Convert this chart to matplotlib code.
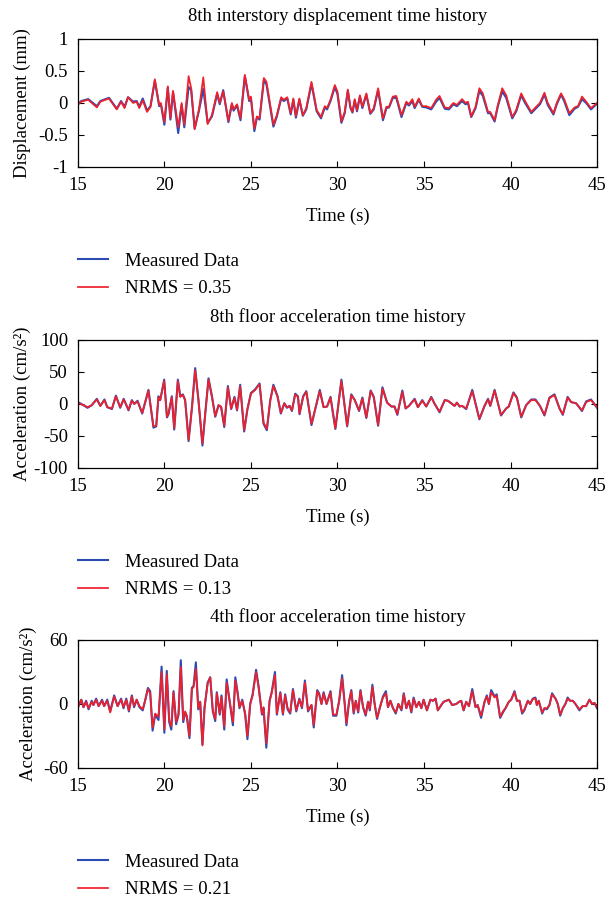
import matplotlib
matplotlib.use("Agg")
import matplotlib.pyplot as plt
import numpy as np

# 8th interstory displacement (mm): time, model (red), measured (blue)
disp_t = [15.0, 15.2, 15.6, 16.1, 16.3, 16.8, 17.25, 17.5, 17.7, 17.9, 18.2, 18.4, 18.55, 18.75,
          19.0, 19.2, 19.45, 19.7, 19.8, 20.0, 20.2, 20.35, 20.5, 20.8, 21.0, 21.15, 21.4, 21.55,
          21.75, 22.0, 22.25, 22.5, 22.75, 23.05, 23.2, 23.4, 23.7, 23.9, 24.0, 24.2, 24.4, 24.65,
          24.9, 25.0, 25.2, 25.35, 25.5, 25.75, 25.9, 26.3, 26.5, 26.75, 26.9, 27.1, 27.3, 27.45,
          27.6, 27.8, 28.0, 28.2, 28.5, 28.8, 29.05, 29.27, 29.4, 29.6, 29.85, 30.0, 30.23, 30.42,
          30.6, 30.75, 30.87, 31.0, 31.13, 31.3, 31.44, 31.67, 31.9, 32.1, 32.35, 32.63, 32.83,
          32.98, 33.2, 33.4, 33.7, 33.98, 34.13, 34.33, 34.46, 34.7, 34.9, 35.13, 35.42, 35.7,
          35.9, 36.2, 36.44, 36.7, 36.9, 37.2, 37.4, 37.54, 37.73, 37.98, 38.2, 38.4, 38.7, 38.83,
          39.08, 39.27, 39.52, 39.75, 40.1, 40.33, 40.62, 40.8, 41.2, 41.48, 41.7, 41.96, 42.15,
          42.48, 42.67, 42.92, 43.1, 43.4, 43.7, 43.9, 44.13, 44.37, 44.65, 45.0]
disp_model = [-0.03, 0.02, 0.05, -0.07, 0.02, 0.07, -0.10, 0.02, -0.08, 0.09, 0.00, 0.02, -0.08, 0.04,
              -0.14, -0.06, 0.37, -0.03, 0.00, -0.30, 0.26, -0.24, 0.19, -0.38, 0.00, -0.34, 0.42, 0.23,
              -0.41, -0.10, 0.40, -0.33, -0.19, 0.17, 0.00, 0.18, -0.28, 0.00, -0.10, -0.02, -0.24, 0.44,
              0.05, 0.10, -0.40, -0.21, -0.24, 0.39, 0.33, -0.34, -0.19, 0.09, 0.05, 0.09, -0.16, 0.07,
              -0.21, 0.07, -0.19, -0.08, 0.33, -0.11, -0.22, -0.05, -0.08, 0.05, 0.28, 0.18, -0.29, -0.14,
              0.21, -0.06, -0.14, 0.06, -0.11, 0.12, -0.06, 0.15, -0.16, -0.08, 0.23, -0.24, -0.06,
              -0.06, 0.10, 0.11, -0.19, 0.02, -0.02, 0.06, -0.06, 0.07, -0.05, -0.05, -0.08, 0.05,
              0.11, -0.07, -0.08, 0.00, -0.03, 0.06, 0.00, 0.02, -0.21, -0.06, 0.23, 0.15, -0.14, -0.14,
              -0.27, -0.03, 0.23, 0.12, -0.22, -0.11, 0.15, 0.05, -0.14, -0.06, 0.00, 0.16, 0.00,
              -0.16, 0.00, 0.15, 0.06, -0.16, -0.07, -0.05, 0.10, 0.02, -0.08, 0.00]
disp_measured = [-0.02, 0.03, 0.06, -0.05, 0.03, 0.08, -0.09, 0.03, -0.06, 0.09, 0.02, 0.03, -0.06, 0.07,
                 -0.12, -0.05, 0.35, -0.05, -0.02, -0.34, 0.24, -0.26, 0.17, -0.47, -0.03, -0.38, 0.25, 0.20,
                 -0.40, -0.12, 0.22, -0.31, -0.21, 0.14, -0.02, 0.20, -0.30, -0.02, -0.12, -0.04, -0.27, 0.42,
                 0.03, 0.08, -0.44, -0.22, -0.26, 0.36, 0.29, -0.37, -0.21, 0.07, 0.03, 0.07, -0.18, 0.05,
                 -0.23, 0.05, -0.20, -0.10, 0.30, -0.13, -0.24, -0.07, -0.10, 0.03, 0.25, 0.14, -0.31, -0.16,
                 0.19, -0.08, -0.15, 0.04, -0.13, 0.10, -0.08, 0.13, -0.17, -0.10, 0.20, -0.27, -0.08,
                 -0.07, 0.08, 0.08, -0.22, 0.00, -0.04, 0.03, -0.08, 0.05, -0.06, -0.07, -0.10, 0.02,
                 0.08, -0.09, -0.10, -0.02, -0.05, 0.03, -0.02, 0.00, -0.22, -0.08, 0.19, 0.11, -0.16, -0.16,
                 -0.29, -0.05, 0.18, 0.08, -0.24, -0.13, 0.12, 0.02, -0.16, -0.08, -0.02, 0.13, -0.03,
                 -0.18, -0.02, 0.13, 0.03, -0.19, -0.09, -0.06, 0.06, 0.00, -0.10, -0.01]

# 8th floor acceleration (cm/s^2)
acc8_t = [15.0, 15.33, 15.56, 15.8, 16.1, 16.3, 16.54, 16.7, 16.97, 17.2, 17.45, 17.65, 17.93, 18.12,
          18.26, 18.45, 18.72, 19.08, 19.37, 19.53, 19.66, 19.76, 19.99, 20.15, 20.24, 20.43, 20.57,
          20.78, 20.92, 21.07, 21.2, 21.4, 21.6, 21.78, 21.97, 22.2, 22.36, 22.55, 22.75, 22.94,
          23.13, 23.28, 23.46, 23.67, 23.86, 24.05, 24.2, 24.38, 24.61, 24.8, 25.0, 25.25, 25.5,
          25.73, 25.92, 26.12, 26.3, 26.54, 26.73, 26.93, 27.08, 27.24, 27.37, 27.56, 27.72, 27.81,
          28.02, 28.2, 28.5, 28.75, 28.98, 29.2, 29.4, 29.6, 29.88, 30.23, 30.56, 30.8, 31.0, 31.25,
          31.44, 31.67, 31.92, 32.1, 32.35, 32.6, 32.87, 33.12, 33.3, 33.46, 33.75, 33.94, 34.13,
          34.46, 34.65, 34.9, 35.13, 35.42, 35.6, 35.9, 36.2, 36.38, 36.77, 36.9, 37.06, 37.2, 37.44,
          37.79, 38.2, 38.5, 38.7, 38.83, 39.08, 39.45, 39.75, 39.9, 40.17, 40.37, 40.62, 40.9, 41.2,
          41.44, 41.7, 41.96, 42.25, 42.54, 42.83, 43.02, 43.3, 43.5, 43.79, 44.13, 44.37, 44.65, 45.0]
acc8_model = [2, -2, -5, -2, 7, -3, 6, -5, -7, 12, -5, 7, -9, 5,
              0, 4, -14, 21, -35, -34, 11, 6, 36, -20, -15, 11, -38,
              36, 11, 14, 6, -56, -4, 53, 6, -62, -15, 38, 11, -19,
              -2, -4, -34, 26, -7, 10, -9, 28, -41, -8, 16, 22, 31,
              -29, -39, 6, 28, 11, -14, 1, -5, -3, -10, 15, 11, -15,
              11, 19, -31, -4, 20, -5, -4, 10, -38, 36, -34, 14, 6, -10,
              9, -21, 20, 10, -33, 24, 2, -4, -4, -16, 19, -7, -3,
              7, -5, 5, -4, 10, 1, -12, 6, 5, -3, 2, -4, -3, -7,
              20, -23, -3, 7, -3, 21, -17, -7, -4, 17, 9, -20, -2, 6,
              6, -3, -17, 9, 14, -7, -16, 10, 3, 1, -10, 3, 6, -5]
acc8_measured = [3, -2, -6, -2, 8, -3, 7, -5, -8, 13, -6, 8, -10, 6,
                 0, 5, -15, 22, -37, -35, 12, 6, 38, -21, -16, 12, -40,
                 38, 12, 15, 6, -58, -4, 56, 6, -65, -16, 40, 12, -20,
                 -2, -5, -36, 28, -8, 11, -10, 30, -43, -8, 17, 23, 32,
                 -31, -41, 6, 30, 12, -15, 1, -6, -3, -11, 16, 12, -16,
                 12, 20, -33, -4, 22, -5, -4, 11, -39, 38, -35, 15, 6, -11,
                 10, -22, 21, 11, -34, 26, 2, -4, -4, -17, 21, -7, -3,
                 8, -5, 6, -4, 11, 1, -13, 6, 5, -3, 2, -4, -3, -8,
                 22, -24, -3, 8, -3, 22, -18, -7, -4, 18, 10, -21, -2, 7,
                 7, -3, -18, 10, 15, -7, -17, 11, 3, 1, -11, 4, 7, -6]

# 4th floor acceleration (cm/s^2)
acc4_t = [15.0, 15.2, 15.33, 15.48, 15.62, 15.8, 15.9, 16.06, 16.2, 16.4, 16.52, 16.7, 16.87, 17.1,
          17.3, 17.5, 17.64, 17.8, 17.95, 18.12, 18.25, 18.4, 18.56, 18.75, 18.9, 19.05, 19.18, 19.32,
          19.47, 19.66, 19.84, 20.0, 20.14, 20.28, 20.4, 20.53, 20.68, 20.82, 20.95, 21.09, 21.2,
          21.3, 21.45, 21.59, 21.69, 21.82, 21.96, 22.07, 22.2, 22.32, 22.5, 22.65, 22.8, 22.94,
          23.03, 23.2, 23.3, 23.46, 23.6, 23.77, 23.96, 24.1, 24.23, 24.34, 24.5, 24.67, 24.8, 24.96,
          25.1, 25.3, 25.44, 25.64, 25.73, 25.89, 26.08, 26.2, 26.39, 26.5, 26.7, 26.85, 26.98, 27.12,
          27.27, 27.43, 27.62, 27.8, 27.95, 28.12, 28.3, 28.5, 28.63, 28.83, 28.94, 29.08, 29.2,
          29.37, 29.6, 29.75, 29.94, 30.1, 30.27, 30.42, 30.52, 30.67, 30.8, 30.94, 31.06, 31.2,
          31.33, 31.48, 31.63, 31.77, 31.87, 32.02, 32.15, 32.29, 32.44, 32.63, 32.8, 32.92, 33.06,
          33.21, 33.37, 33.52, 33.7, 33.83, 33.98, 34.13, 34.27, 34.4, 34.56, 34.71, 34.85, 34.98,
          35.17, 35.37, 35.52, 35.67, 35.8, 36.0, 36.13, 36.29, 36.44, 36.63, 36.87, 37.02, 37.15,
          37.29, 37.44, 37.6, 37.79, 37.98, 38.1, 38.3, 38.5, 38.63, 38.75, 38.88, 39.08, 39.2, 39.4,
          39.56, 39.71, 39.9, 40.04, 40.23, 40.37, 40.52, 40.67, 40.8, 41.0, 41.13, 41.29, 41.44,
          41.52, 41.63, 41.83, 41.96, 42.1, 42.25, 42.4, 42.6, 42.73, 42.87, 43.02, 43.17, 43.3,
          43.44, 43.6, 43.75, 43.98, 44.17, 44.37, 44.56, 44.71, 44.85, 45.0]
acc4_model = [-4, 4, -3, 2, -4, 2, -1, 4, -2, 3, -2, 3, -8, 7,
              -2, 4, -3, 4, -6, 7, -2, 4, -2, -5, 4, 14, 10, -22,
              -9, -12, 30, -24, 28, -15, -21, 11, -17, -9, 35, -15, -7,
              -11, -30, 14, 16, 33, -4, 2, -39, -3, 19, 25, -6, -14,
              10, -9, 7, -21, 20, 3, -17, 22, 10, -3, 3, -9, -30, 0,
              8, 30, 16, -9, -3, -37, 3, 10, 27, -9, 10, -9, 8, -4,
              -8, 13, -6, 4, -3, 20, -6, -1, -20, 12, 9, 0, 10,
              0, 11, -10, -10, 3, 24, 0, -18, 2, 12, -8, 3, -7,
              12, -3, -10, 2, -5, 16, 0, -13, -4, 6, 10, -3, 3,
              -4, -8, 0, -5, 9, -4, 3, -7, 5, -3, 2, -4, 4,
              -6, 4, 3, 5, -6, -1, 2, 3, 4, -1, 0, 2, 3,
              -6, 2, -2, 12, -3, -1, -11, 2, 7, 0, 11, 6, 8, -12,
              -7, -4, 2, 4, 11, 3, 3, -8, -5, 3, 0, 5, 5,
              -1, 3, -8, -4, -4, -1, 9, 5, 0, -10, -4, 0, 5,
              3, 3, 0, -5, -2, -2, 4, 0, 1, -3]
acc4_measured = [-3, 4, -3, 3, -5, 3, -1, 5, -2, 4, -2, 4, -7, 8,
                 -2, 5, -4, 5, -7, 8, -3, 4, -3, -6, 4, 15, 12, -25,
                 -10, -15, 35, -27, 31, -17, -24, 12, -19, -10, 41, -17, -8,
                 -12, -32, 15, 17, 39, -5, 2, -38, -4, 20, 25, -7, -16,
                 11, -10, 8, -24, 23, 3, -20, 25, 11, -4, 4, -10, -33, 0,
                 9, 32, 17, -10, -4, -41, 3, 11, 30, -10, 11, -10, 9, -5,
                 -9, 14, -7, 5, -4, 22, -7, -1, -22, 13, 10, 0, 11,
                 0, 12, -11, -11, 3, 27, 0, -20, 2, 13, -9, 3, -8,
                 13, -3, -11, 2, -6, 18, 0, -14, -4, 7, 12, -3, 3,
                 -4, -9, 0, -6, 10, -4, 3, -8, 6, -3, 2, -4, 4,
                 -6, 4, 3, 5, -6, -1, 2, 3, 4, -1, 0, 2, 3,
                 -6, 2, -2, 14, -3, -1, -13, 2, 8, 0, 13, 7, 9, -13,
                 -8, -4, 2, 4, 12, 3, 3, -9, -6, 3, 0, 5, 6,
                 -1, 3, -9, -4, -5, -1, 10, 5, 0, -11, -4, 0, 6,
                 3, 3, 0, -6, -2, -2, 4, 0, 1, -4]

titles = ["8th interstory displacement time history",
          "8th floor acceleration time history",
          "4th floor acceleration time history"]
ylabels = ["Displacement (mm)", "Acceleration (cm/s²)", "Acceleration (cm/s²)"]
nrms_labels = ["NRMS = 0.35", "NRMS = 0.13", "NRMS = 0.21"]
yticks = [[-1, -0.5, 0, 0.5, 1], [-100, -50, 0, 50, 100], [-60, 0, 60]]
yticklabels = [["-1", "-0.5", "0", "0.5", "1"], ["-100", "-50", "0", "50", "100"], ["-60", "0", "60"]]
xticks = [15, 20, 25, 30, 35, 40, 45]

BLUE = "#2b4cb3"
RED = "#f0202b"
FS = 13.5

plt.rcParams["font.family"] = ["Liberation Serif", "DejaVu Serif"]
plt.rcParams["font.size"] = FS
plt.rcParams["axes.unicode_minus"] = False


def draw_panel(ax, t, measured, model, title, ylabel, ticks, ticklabels, nrms, label_x):
    ax.plot(t, measured, color=BLUE, lw=1.5, label="Measured Data")
    ax.plot(t, model, color=RED, lw=1.25, label=nrms)
    ax.set_xlim(15, 45)
    ax.set_ylim(ticks[0], ticks[-1])
    ax.set_xticks(xticks)
    ax.set_yticks(ticks)
    ax.set_yticklabels(ticklabels)
    ax.tick_params(direction="in", top=True, right=True, length=4, width=0.8, pad=7,
                   labelsize=FS)
    ax.set_title(title, fontsize=FS, pad=13)
    ax.set_xlabel("Time (s)", labelpad=10)
    ax.set_ylabel(ylabel)
    ax.yaxis.set_label_coords(label_x, 0.5)
    for s in ax.spines.values():
        s.set_linewidth(0.9)
    ax.legend(loc="upper left", bbox_to_anchor=(0.0, -0.67), frameon=False,
              borderpad=0, borderaxespad=0, handlelength=1.6, handletextpad=0.9,
              labelspacing=0.55, fontsize=FS)


fig = plt.figure(figsize=(6.08, 9.02), dpi=100)
left, width, height = 0.128, 0.854, 0.1419
bottoms = [0.8149, 0.4812, 0.1486]
label_xs = [-0.090, -0.091, -0.078]
series = [(disp_t, disp_measured, disp_model),
          (acc8_t, acc8_measured, acc8_model),
          (acc4_t, acc4_measured, acc4_model)]

for i, (t, meas, mod) in enumerate(series):
    ax = fig.add_axes([left, bottoms[i], width, height])
    draw_panel(ax, t, meas, mod, titles[i], ylabels[i], yticks[i], yticklabels[i],
               nrms_labels[i], label_xs[i])

fig.savefig("out.png", dpi=100)
plt.close(fig)
